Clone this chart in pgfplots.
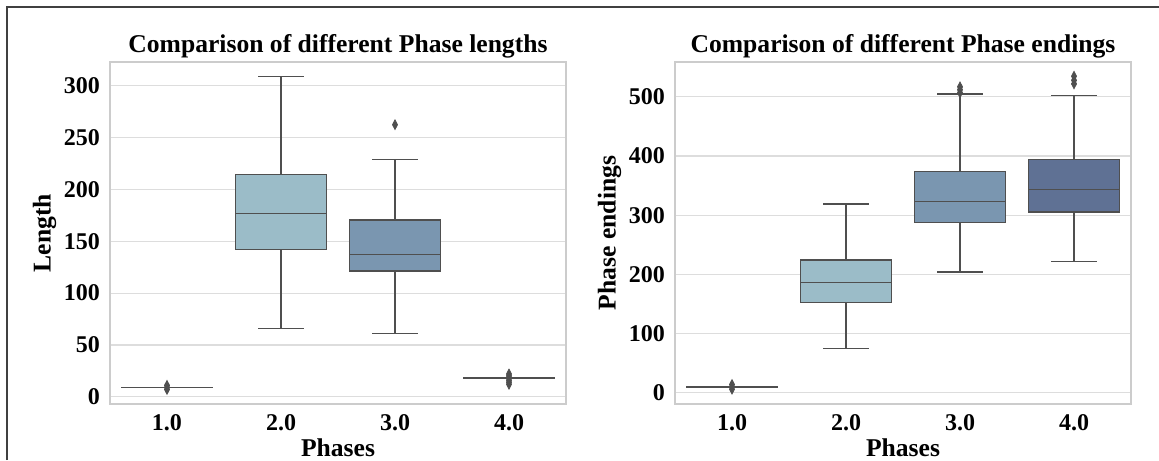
\documentclass[border=0pt]{standalone}
\usepackage{fontspec}
\setmainfont{Liberation Serif}
\usepackage{pgfplots}
\pgfplotsset{compat=1.18}

\definecolor{cA}{HTML}{9BBCC8}
\definecolor{cB}{HTML}{7A96B0}
\definecolor{cC}{HTML}{5F7194}
\definecolor{edge}{HTML}{4F4F4F}
\definecolor{gridc}{HTML}{DDDDDD}
\definecolor{framec}{HTML}{CCCCCC}

\pgfplotsset{
  phasebox/.style={
    scale only axis,
    width=228pt, height=171pt,
    xmin=-0.5, xmax=3.5,
    xtick={0,1,2,3},
    xticklabels={1.0,2.0,3.0,4.0},
    ymajorgrids,
    grid style={gridc, line width=0.6pt},
    axis line style={framec, line width=0.6pt},
    xtick style={draw=none}, ytick style={draw=none},
    /pgf/number format/assume math mode=true,
    ticklabel style={font=\fontsize{12}{14}\selectfont\bfseries},
    yticklabel style={xshift=-1.5pt},
    xticklabel style={yshift=-1.5pt},
    title style={font=\fontsize{12.8}{15}\selectfont\bfseries, yshift=-7.5pt},
    label style={font=\fontsize{12.8}{15}\selectfont\bfseries},
    ylabel shift=-3pt,
    xlabel shift=-2.5pt,
    xlabel={Phases},
  },
  ln/.style={draw=edge, line width=0.7pt, mark=none},
  outl/.style={only marks, mark=diamond*, mark size=2.4pt,
    mark options={fill=edge, draw=edge, xscale=0.7}},
}

% centre, low whisker, Q1, median, Q3, high whisker, fill colour
\newcommand{\phbox}[7]{%
  \pgfmathsetmacro\bxl{#1-0.4}\pgfmathsetmacro\bxr{#1+0.4}%
  \pgfmathsetmacro\cpl{#1-0.2}\pgfmathsetmacro\cpr{#1+0.2}%
  \addplot[ln] coordinates {(#1,#2) (#1,#3)};
  \addplot[ln] coordinates {(#1,#5) (#1,#6)};
  \addplot[ln] coordinates {(\cpl,#2) (\cpr,#2)};
  \addplot[ln] coordinates {(\cpl,#6) (\cpr,#6)};
  \addplot[ln, fill=#7] coordinates {(\bxl,#3) (\bxr,#3) (\bxr,#5) (\bxl,#5) (\bxl,#3)};
  \addplot[ln] coordinates {(\bxl,#4) (\bxr,#4)};
}
% centre, value (flat box)
\newcommand{\phflat}[2]{%
  \pgfmathsetmacro\bxl{#1-0.4}\pgfmathsetmacro\bxr{#1+0.4}%
  \addplot[ln] coordinates {(\bxl,#2) (\bxr,#2)};
}

\begin{document}
\begin{tikzpicture}
\useasboundingbox (0,0) rectangle (579.5pt,230pt);
\draw[color=black!75, line width=1pt] (3.5pt,0) -- (3.5pt,226.5pt) -- (579.5pt,226.5pt);

\begin{axis}[phasebox, at={(55pt,28pt)}, anchor=south west,
  ymin=-7, ymax=323,
  ytick={0,50,...,300},
  title={Comparison of different Phase lengths},
  ylabel={Length},
]
\phflat{0}{9}
\addplot[outl] coordinates {(0,7) (0,9) (0,11)};
\phbox{1}{66}{142}{177}{214.5}{309}{cA}
\phbox{2}{61}{121.5}{137}{170.5}{229}{cB}
\addplot[outl] coordinates {(2,262.5)};
\phflat{3}{18}
\addplot[outl] coordinates {(3,12) (3,14) (3,16) (3,20) (3,22)};
\end{axis}

\begin{axis}[phasebox, at={(337.5pt,28pt)}, anchor=south west,
  ymin=-19, ymax=559,
  ytick={0,100,...,500},
  title={Comparison of different Phase endings},
  ylabel={Phase endings},
]
\phflat{0}{10}
\addplot[outl] coordinates {(0,6) (0,10) (0,14)};
\phbox{1}{75}{152.5}{186}{224.5}{319}{cA}
\phbox{2}{204}{288}{323}{373.5}{505}{cB}
\addplot[outl] coordinates {(2,507) (2,512) (2,517)};
\phbox{3}{222}{305.5}{344}{394}{502}{cC}
\addplot[outl] coordinates {(3,522) (3,528) (3,535)};
\end{axis}
\end{tikzpicture}
\end{document}
